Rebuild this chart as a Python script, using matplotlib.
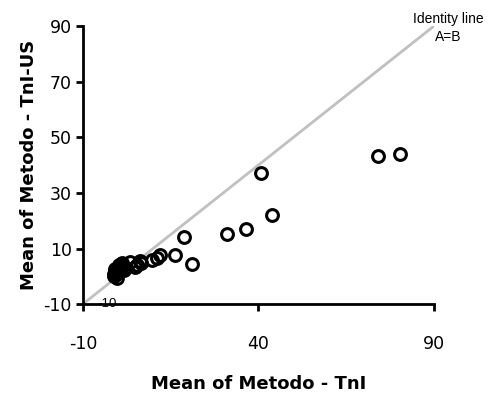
import numpy as np
import matplotlib.pyplot as plt

# Datos (medias por método)
media_tni = [80.5, 74.2, 40.8, 44.0, 36.6, 31.1, 18.7, 21.1, 16.2, 12.0, 11.1,
             9.8, 6.4, 6.7, 5.5, 3.5, 5.0,
             -1.0, -0.8, -0.5, -0.3, 0.0, 0.2, 0.5, 0.8, 1.0, 1.3,
             -0.6, 0.1, 0.6, -0.9, 0.3, 1.1, 1.6, 2.0, -1.1, -0.4]
media_tni_us = [44.0, 43.2, 37.2, 22.1, 17.1, 15.3, 14.1, 4.5, 7.7, 7.7, 6.6,
                5.8, 5.5, 4.9, 3.9, 5.1, 3.3,
                1.0, 1.8, 1.2, 2.5, 2.0, 3.2, 3.0, 3.8, 4.5, 4.8,
                0.8, 1.5, 2.5, 2.8, 4.0, 3.5, 2.2, 3.0, 0.0, -0.5]
ticks = [-10, 40, 90]
ticks_y = [-10, 10, 30, 50, 70, 90]

plt.rcParams['font.family'] = ['DejaVu Sans']
plt.rcParams['axes.unicode_minus'] = False

fig = plt.figure(figsize=(4.93, 3.96), dpi=100)
ax = fig.add_axes([0.168, 0.232, 0.712, 0.702])

# Línea identidad A=B
ax.plot([-10, 90], [-10, 90], color='#c0c0c0', lw=2, zorder=1)
ax.plot(media_tni, media_tni_us, 'o', mfc='none', mec='black', mew=2.2,
        ms=8.5, ls='none', zorder=2)

ax.set_xlim(-10, 90)
ax.set_ylim(-10, 90)
ax.set_xticks(ticks)
ax.set_yticks(ticks_y)
ax.spines['top'].set_visible(False)
ax.spines['right'].set_visible(False)
for s in ['left', 'bottom']:
    ax.spines[s].set_linewidth(2)
ax.tick_params(axis='x', direction='out', length=5, width=2, pad=17, labelsize=12.5)
ax.tick_params(axis='y', direction='out', length=5, width=2, pad=3, labelsize=12.5)

ax.text(-3, -10, '-10', ha='center', va='center', fontsize=9.5,
        family='Liberation Sans')
fig.text(448 / 493, 1 - 12 / 396, 'Identity line\nA=B', ha='center',
         va='top', fontsize=10, linespacing=1.4, family='Liberation Sans')

ax.set_xlabel('Mean of Metodo - TnI', fontsize=13, fontweight='bold', labelpad=16)
ax.set_ylabel('Mean of Metodo - TnI-US', fontsize=13, fontweight='bold', labelpad=4)

fig.savefig('out.png', dpi=100)
